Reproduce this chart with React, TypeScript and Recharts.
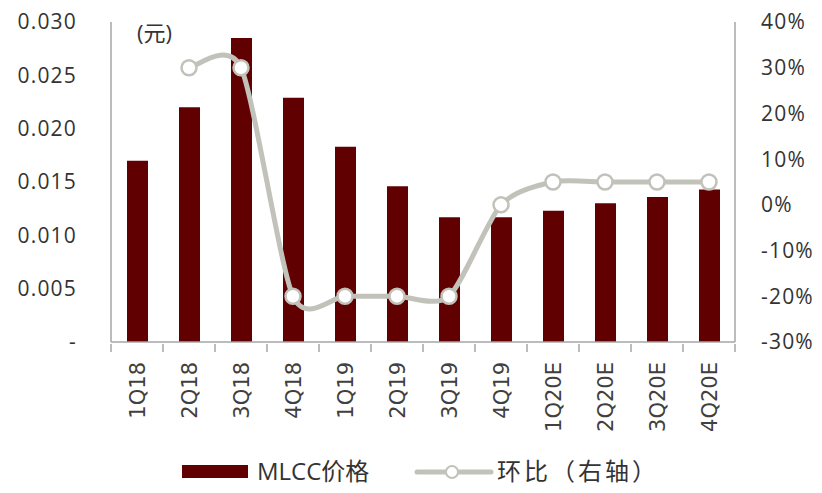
import React from "react";
import {
  ComposedChart,
  Bar,
  Line,
  XAxis,
  YAxis,
  Legend,
} from "recharts";

const categories = ["1Q18", "2Q18", "3Q18", "4Q18", "1Q19", "2Q19", "3Q19", "4Q19", "1Q20E", "2Q20E", "3Q20E", "4Q20E"];
const price = [0.017, 0.022, 0.0285, 0.0229, 0.0183, 0.0146, 0.0117, 0.0117, 0.0123, 0.013, 0.0136, 0.0143];
const qoq = [null, 0.3, 0.3, -0.2, -0.2, -0.2, -0.2, 0, 0.05, 0.05, 0.05, 0.05];
const leftTicks = [0, 0.005, 0.01, 0.015, 0.02, 0.025, 0.03];
const rightTicks = [-0.3, -0.2, -0.1, 0, 0.1, 0.2, 0.3, 0.4];

const data = categories.map((c, i) => ({ name: c, price: price[i], qoq: qoq[i] }));

const FONT = "'Open Sans', 'Noto Sans CJK SC', sans-serif";
const XFONT = "'DejaVu Sans', sans-serif";
const TEXT = "#333";
const AXIS = "#a6a6a6";
const BAR = "#600000";
const LINE = "#c2c2ba";
const BAND = 52;

// excel-like smoothing, a bit tighter than catmull-rom
function smoothCurve(context: any) {
  let pts: number[][] = [];
  const k = 8;
  return {
    areaStart() {},
    areaEnd() {},
    lineStart() {
      pts = [];
    },
    point(x: number, y: number) {
      pts.push([+x, +y]);
    },
    lineEnd() {
      if (!pts.length) return;
      context.moveTo(pts[0][0], pts[0][1]);
      for (let i = 0; i < pts.length - 1; i++) {
        const p0 = pts[i - 1] || pts[i];
        const p1 = pts[i];
        const p2 = pts[i + 1];
        const p3 = pts[i + 2] || p2;
        context.bezierCurveTo(
          p1[0] + (p2[0] - p0[0]) / k,
          p1[1] + (p2[1] - p0[1]) / k,
          p2[0] - (p3[0] - p1[0]) / k,
          p2[1] - (p3[1] - p1[1]) / k,
          p2[0],
          p2[1]
        );
      }
    },
  };
}

function XTick(props: any) {
  const { x, y, payload, index } = props;
  const last = index === categories.length - 1;
  return (
    <g>
      <line x1={x - BAND / 2} x2={x - BAND / 2} y1={y} y2={y + 8} stroke={AXIS} strokeWidth={1.5} />
      {last && <line x1={x + BAND / 2} x2={x + BAND / 2} y1={y} y2={y + 8} stroke={AXIS} strokeWidth={1.5} />}
      <text
        transform={`translate(${x},${y + 18}) rotate(-90)`}
        textAnchor="end"
        dy="0.36em"
        fontSize={21}
        fill="#404040"
        fontFamily={XFONT}
      >
        {payload.value}
      </text>
    </g>
  );
}

function LegendContent() {
  return (
    <div style={{ position: "relative", height: 51, fontFamily: FONT, fontSize: 24, color: TEXT }}>
      <div style={{ position: "absolute", left: 182, top: 23, width: 66, height: 13, background: BAR }} />
      <div style={{ position: "absolute", left: 257, top: 13, lineHeight: "32px" }}>MLCC价格</div>
      <svg style={{ position: "absolute", left: 414, top: 20 }} width={80} height={20}>
        <line x1={3} x2={77} y1={10} y2={10} stroke={LINE} strokeWidth={5} strokeLinecap="round" />
        <circle cx={38} cy={10} r={6} fill="#fff" stroke={LINE} strokeWidth={2} />
      </svg>
      <div style={{ position: "absolute", left: 497, top: 13, lineHeight: "32px", letterSpacing: 3 }}>环比（右轴）</div>
    </div>
  );
}

export default function App() {
  return (
    <div style={{ position: "absolute", left: 0, top: 0, width: 822, height: 493, background: "#fff" }}>
      <ComposedChart width={822} height={493} data={data} margin={{ top: 22, right: 0, left: 0, bottom: 0 }}>
        <XAxis
          dataKey="name"
          xAxisId="x"
          axisLine={{ stroke: AXIS, strokeWidth: 1.5 }}
          tickLine={false}
          tickSize={0}
          tick={<XTick />}
          height={100}
          interval={0}
        />
        <YAxis
          yAxisId="left"
          width={111}
          domain={[0, 0.03]}
          ticks={leftTicks}
          tickFormatter={(v: number) => (v === 0 ? "-" : v.toFixed(3))}
          axisLine={{ stroke: AXIS, strokeWidth: 1.5 }}
          tickLine={false}
          tickSize={0}
          tickMargin={34}
          tick={{ fontSize: 21, fill: TEXT, fontFamily: FONT, letterSpacing: 1.2 }}
          interval={0}
        />
        <YAxis
          yAxisId="right"
          orientation="right"
          width={87}
          domain={[-0.3, 0.4]}
          ticks={rightTicks}
          tickFormatter={(v: number) => `${Math.round(v * 100)}%`}
          axisLine={{ stroke: AXIS, strokeWidth: 1.5 }}
          tickLine={false}
          tickSize={0}
          tickMargin={26}
          tick={{ fontSize: 21, fill: TEXT, fontFamily: FONT, letterSpacing: 1.2 }}
          interval={0}
        />
        <Legend verticalAlign="bottom" height={51} content={<LegendContent />} />
        <Bar xAxisId="x" yAxisId="left" dataKey="price" fill={BAR} barSize={21} isAnimationActive={false} />
        <Line
          xAxisId="x"
          yAxisId="right"
          dataKey="qoq"
          type={smoothCurve as any}
          stroke={LINE}
          strokeWidth={5}
          dot={{ r: 7.5, fill: "#fff", stroke: LINE, strokeWidth: 2.5 }}
          isAnimationActive={false}
        />
      </ComposedChart>
      <div style={{ position: "absolute", left: 137, top: 15, fontFamily: FONT, fontSize: 22, color: TEXT }}>(元)</div>
    </div>
  );
}
